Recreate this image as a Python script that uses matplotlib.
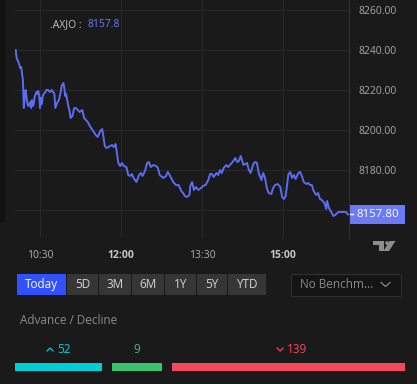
import matplotlib
matplotlib.use("Agg")
import matplotlib.pyplot as plt
import matplotlib.transforms as mtransforms
from matplotlib.patches import Rectangle, Polygon, Circle
import numpy as np

plt.rcParams['font.family'] = ['Open Sans', 'DejaVu Sans']

# intraday .AXJO, minutes after midnight / index level
minutes = [603, 604, 606, 608, 609, 611, 612, 613, 614, 616, 617, 619, 620, 621, 622, 623,
           624, 626, 627, 628, 629, 630, 631, 632, 633, 634, 636, 637, 639, 641, 643, 646,
           647, 649, 651, 653, 654, 656, 657, 658, 659, 660, 661, 663, 664, 666, 667, 668,
           670, 672, 674, 677, 678, 679, 681, 683, 686, 689, 692, 694, 697, 699, 700, 702,
           704, 708, 710, 712, 714, 717, 719, 721, 723, 726, 728, 730, 732, 734, 737, 738,
           740, 742, 744, 747, 749, 751, 753, 756, 759, 761, 763, 767, 770, 772, 774, 778,
           781, 784, 787, 789, 791, 793, 796, 797, 799, 801, 803, 806, 809, 811, 814, 817,
           819, 821, 823, 826, 828, 830, 832, 834, 837, 839, 842, 844, 847, 849, 851, 853,
           856, 858, 860, 862, 864, 867, 869, 871, 873, 876, 878, 880, 882, 884, 887, 889,
           891, 894, 897, 899, 901, 903, 906, 908, 910, 912, 914, 917, 919, 921, 923, 926,
           928, 930, 932, 934, 937, 939, 941, 943, 946, 948, 949, 951, 953, 956, 958, 960,
           962, 966, 968, 970, 972]
prices = [8240.0, 8236.0, 8234.0, 8231.0, 8231.5, 8225.0, 8211.0, 8216.0, 8220.0, 8213.0,
          8212.0, 8214.0, 8211.0, 8215.0, 8212.0, 8213.0, 8216.5, 8219.0, 8218.0, 8219.5,
          8217.5, 8211.0, 8216.0, 8213.0, 8217.0, 8218.0, 8219.0, 8220.0, 8220.0, 8219.0,
          8220.0, 8218.0, 8211.0, 8213.5, 8215.0, 8219.0, 8222.0, 8223.5, 8221.0, 8217.0,
          8218.0, 8215.5, 8213.0, 8209.0, 8206.0, 8207.0, 8209.0, 8211.0, 8211.0, 8210.0,
          8209.0, 8210.0, 8208.0, 8206.0, 8205.0, 8204.0, 8201.5, 8199.5, 8197.5, 8196.5,
          8199.5, 8200.5, 8198.0, 8192.0, 8191.0, 8192.0, 8192.5, 8191.5, 8193.0, 8183.5,
          8182.0, 8183.5, 8182.0, 8181.5, 8177.5, 8177.0, 8178.0, 8176.0, 8174.0, 8175.0,
          8177.5, 8178.5, 8177.0, 8180.0, 8183.5, 8184.0, 8181.5, 8182.5, 8182.0, 8181.0,
          8177.5, 8176.0, 8177.0, 8179.0, 8177.5, 8174.0, 8172.5, 8172.5, 8169.5, 8168.5,
          8167.0, 8166.5, 8167.5, 8172.0, 8174.0, 8170.0, 8171.5, 8170.0, 8171.0, 8172.0,
          8172.5, 8175.0, 8178.0, 8178.0, 8176.5, 8178.5, 8177.5, 8180.0, 8178.5, 8181.0,
          8182.5, 8181.5, 8183.0, 8184.0, 8186.0, 8184.0, 8184.5, 8187.0, 8182.5, 8183.0,
          8183.5, 8180.0, 8178.5, 8183.0, 8184.0, 8183.5, 8178.5, 8175.0, 8178.5, 8176.0,
          8171.0, 8168.5, 8168.0, 8171.0, 8172.5, 8173.0, 8171.5, 8166.5, 8165.5, 8167.0,
          8178.0, 8179.0, 8176.0, 8177.5, 8175.5, 8178.5, 8179.0, 8177.0, 8174.0, 8173.0,
          8173.5, 8172.5, 8172.5, 8169.5, 8167.5, 8168.5, 8165.5, 8165.0, 8163.5, 8160.5,
          8164.5, 8161.0, 8159.5, 8157.0, 8157.5, 8158.5, 8159.0, 8159.0, 8159.0, 8159.0,
          8157.8]
last_price = 8157.80

y_ticks = [8160, 8180, 8200, 8220, 8240, 8260]
x_ticks = [630, 720, 810, 900]
x_tick_labels = ['10:30', '12:00', '13:30', '15:00']
x_tick_bold = [False, True, False, True]

periods = ['Today', '5D', '3M', '6M', '1Y', '5Y', 'YTD']
breadth_counts = [52, 9, 139]   # advance, unchanged, decline

bg = '#1a1a1a'
line_col = '#5b6cf0'
label_col = '#6b7af5'

fig = plt.figure(figsize=(4.17, 3.84), dpi=100, facecolor=bg)

# background layer in pixel units for the widget parts
ui = fig.add_axes([0, 0, 1, 1])
ui.set_xlim(0, 417)
ui.set_ylim(384, 0)
ui.axis('off')
ui.add_patch(Rectangle((0, 0), 5, 222, color='#121212', lw=0))

# ---- chart ----
ax = fig.add_axes([15 / 417, 1 - 238 / 384, 334 / 417, 238 / 384])
ax.patch.set_alpha(0)
ax.plot(minutes, prices, color=line_col, lw=1.4, solid_joinstyle='round')
ax.set_xlim(602.2, 973.3)
ax.set_ylim(8146, 8265)
for s in ['top', 'left', 'bottom']:
    ax.spines[s].set_visible(False)
ax.spines['right'].set_color('#303030')
ax.spines['right'].set_linewidth(0.8)
ax.grid(True, color='#282828', lw=0.8)
ax.set_axisbelow(True)

ax.yaxis.tick_right()
ax.set_yticks(y_ticks)
# the lowest label sits under the last-price tag
ax.set_yticklabels(['' if abs(v - last_price) < 8 else '%.2f' % v for v in y_ticks])
ax.tick_params(axis='y', length=0, pad=6.5, labelsize=7.5, labelcolor='#a8a8a8')
ax.set_xticks(x_ticks)
ax.set_xticklabels(x_tick_labels)
ax.tick_params(axis='x', length=0, pad=9, labelsize=7.5, labelcolor='#b0b0b0')
for lab, b in zip(ax.get_xticklabels(), x_tick_bold):
    if b:
        lab.set_fontweight('bold')
        lab.set_color('#c8c8c8')

# last price tag on the axis
tr = mtransforms.blended_transform_factory(ax.transAxes, ax.transData)
ax.add_patch(Rectangle((1.0, last_price - 4.9), 56 / 334, 9.8, transform=tr,
                       color=label_col, lw=0, clip_on=False))
ax.plot([1.0, 1.0 + 4 / 334], [last_price, last_price], transform=tr,
        color='white', lw=1, clip_on=False)
ax.text(1.0 + 29 / 334, last_price, '%.2f' % last_price, transform=tr, ha='center',
        va='center', color='white', fontsize=8.2)

# legend text
ax.text(35 / 334, 8252.6, '.AXJO : ', color='#c4c4c4', fontsize=7.5, va='center',
        transform=tr)
ax.text(72 / 334, 8252.6, '%.1f' % last_price, color=label_col, fontsize=7.5,
        va='center', transform=tr)

# TradingView mark
logo_col = '#8c8c8c'
ui.add_patch(Polygon([(373, 241), (384.5, 241), (384.5, 251), (379, 251), (379, 245.3),
                      (373, 245.3)], color=logo_col, lw=0))
ui.add_patch(Circle((387, 243), 1.8, color=logo_col, lw=0))
ui.add_patch(Polygon([(389.5, 241), (395.5, 241), (389, 251), (383.5, 251)],
                     color=logo_col, lw=0))

# ---- period buttons ----
edges = [17, 67, 99, 132, 165, 197, 228, 267]
for i, p in enumerate(periods):
    x0, x1 = edges[i], edges[i + 1]
    fc = '#3151ff' if i == 0 else '#363636'
    ui.add_patch(Rectangle((x0, 273.5), x1 - x0 - 1, 21.5, color=fc, lw=0))
    ui.text((x0 + x1 - 1) / 2, 284.5, p, ha='center', va='center', fontsize=8.5,
            color='white' if i == 0 else '#d4d4d4')

# benchmark dropdown
ui.add_patch(Rectangle((291, 273.5), 110, 22.5, facecolor='#141414',
                       edgecolor='#303030', lw=0.8))
ui.text(300, 285, 'No Benchm...', va='center', fontsize=8.5, color='#8a8a8a')
ui.plot([381, 385.5, 390], [282.5, 286.5, 282.5], color='#8a8a8a', lw=0.9)

# ---- advance / decline ----
ui.text(20, 320, 'Advance / Decline', va='center', fontsize=8.5, color='#8a8a8a')

counts = np.array(breadth_counts, dtype=float)
left, right, gap, min_w = 15, 405, 10, 50
avail = right - left - gap * (len(counts) - 1)
w = counts / counts.sum() * avail
small = w < min_w
w[small] = min_w
w[~small] = counts[~small] / counts[~small].sum() * (avail - min_w * small.sum())

bar_cols = ['#00ced5', '#38c270', '#f4485b']
x = left
for i, (c, wi) in enumerate(zip(breadth_counts, w)):
    ui.add_patch(Rectangle((x, 362.7), wi, 8, color=bar_cols[i], lw=0))
    cx = x + wi / 2
    if i == 1:
        ui.text(cx, 349.5, str(c), ha='center', va='center', fontsize=8.5,
                color=bar_cols[i])
    else:
        ui.text(cx - 1.5, 349.5, str(c), ha='left', va='center', fontsize=8.5,
                color=bar_cols[i])
        ax_x = cx - 8.5
        if i == 0:
            ui.plot([ax_x - 3, ax_x, ax_x + 3], [351, 348, 351], color=bar_cols[i], lw=0.9)
        else:
            ui.plot([ax_x - 3, ax_x, ax_x + 3], [348, 351, 348], color=bar_cols[i], lw=0.9)
    x += wi + gap

fig.savefig('out.png', dpi=100, facecolor=bg)
